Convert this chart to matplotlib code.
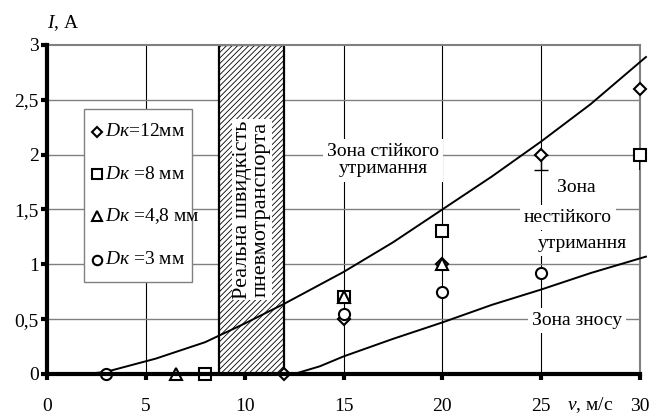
import matplotlib
matplotlib.use("Agg")
import matplotlib.pyplot as plt
from matplotlib.patches import Rectangle

plt.rcParams['font.family'] = ['Liberation Serif', 'DejaVu Serif']
plt.rcParams['mathtext.fontset'] = 'custom'
plt.rcParams['mathtext.it'] = 'Liberation Serif:italic'
plt.rcParams['mathtext.rm'] = 'Liberation Serif'
plt.rcParams['hatch.linewidth'] = 0.6

# ---- data ----
x_ticks = [0, 5, 10, 15, 20, 25, 30]
x_labels = ['0', '5', '10', '15', '20', '25', '30']
y_ticks = [0, 0.5, 1, 1.5, 2, 2.5, 3]
y_labels = ['0', '0,5', '1', '1,5', '2', '2,5', '3']

d12_x = [12, 15, 20, 25, 30]
d12_y = [0, 0.5, 1.0, 2.0, 2.6]
d8_x = [8, 15, 20, 30]
d8_y = [0, 0.7, 1.3, 2.0]
d48_x = [6.5, 15, 20]
d48_y = [0, 0.7, 1.0]
d3_x = [3, 15, 20, 25]
d3_y = [0, 0.55, 0.75, 0.92]

err_x = [25, 30]
err_y = [2.0, 2.0]
err_lo = [0.14, 0.14]

upper_x = [2.0, 3, 5.5, 8, 10, 12, 15, 17.5, 20, 22.5, 25, 27.5, 30.3]
upper_y = [0.0, 0.02, 0.14, 0.29, 0.46, 0.64, 0.93, 1.2, 1.5, 1.8, 2.12, 2.46, 2.89]
lower_x = [12.5, 13.8, 15, 17.5, 20, 22.5, 25, 27.5, 30.3]
lower_y = [0.0, 0.07, 0.16, 0.32, 0.47, 0.63, 0.77, 0.92, 1.07]

legend_labels = [r'$\mathit{Dк}$=12мм', r'$\mathit{Dк}$ =8 мм',
                 r'$\mathit{Dк}$ =4,8 мм', r'$\mathit{Dк}$ =3 мм']

band_x0, band_x1, band_top = 8.7, 12.0, 3.0

FS = 14

fig = plt.figure(figsize=(6.66, 4.16), dpi=100)
ax = fig.add_axes([0.0706, 0.101, 0.8904, 0.791])
ax.set_xlim(0, 30)
ax.set_ylim(0, 3)

# grid
for xv in x_ticks[1:-1]:
    ax.axvline(xv, color='black', lw=0.8, zorder=1)
for yv in y_ticks[1:-1]:
    ax.axhline(yv, color='#808080', lw=1.0, zorder=1)

# hatched band
ax.add_patch(Rectangle((band_x0, 0), band_x1 - band_x0, band_top, facecolor='white',
                       edgecolor='black', hatch='//////', lw=1.6, zorder=2))
ax.text((band_x0 + band_x1) / 2, 1.5, 'Реальна швидкість\nпневмотранспорта',
        rotation=90, ha='center', va='center', fontsize=16, linespacing=0.95,
        bbox=dict(facecolor='white', edgecolor='none', pad=1), zorder=2.5)

# zone labels
tb = dict(facecolor='white', edgecolor='none', pad=3)
ax.text(17.0, 1.95, 'Зона стійкого\nутримання', ha='center', va='center', fontsize=FS,
        linespacing=1.05, bbox=tb, zorder=2.5)
ax.text(26.8, 1.70, 'Зона', ha='center', va='center', fontsize=FS, bbox=tb, zorder=2.5)
ax.text(26.35, 1.43, 'нестійкого', ha='center', va='center', fontsize=FS, bbox=tb, zorder=2.5)
ax.text(27.1, 1.19, 'утримання', ha='center', va='center', fontsize=FS, bbox=tb, zorder=2.5)
ax.text(26.8, 0.49, 'Зона зносу', ha='center', va='center', fontsize=FS, bbox=tb, zorder=2.5)

# curves
ax.plot(upper_x, upper_y, color='black', lw=1.4, zorder=3, clip_on=False)
ax.plot(lower_x, lower_y, color='black', lw=1.4, zorder=3, clip_on=False)

# error bars (lower part)
ax.errorbar(err_x[:1], err_y[:1], yerr=[err_lo[:1], [0]], fmt='none', ecolor='black',
            elinewidth=1.0, capsize=5, capthick=1.0, zorder=3.5)
ax.errorbar(err_x[1:], err_y[1:], yerr=[err_lo[1:], [0]], fmt='none', ecolor='black',
            elinewidth=1.2, capsize=0, zorder=3.5)

mk = dict(linestyle='none', markerfacecolor='white', markeredgecolor='black',
          markeredgewidth=1.5, zorder=4, clip_on=False)
series = [
    (d12_x, d12_y, 'D', 6.5),
    (d8_x, d8_y, 's', 8),
    (d48_x, d48_y, '^', 8),
    (d3_x, d3_y, 'o', 8),
]
for xs, ys, m, ms in series:
    ax.plot(xs, ys, marker=m, markersize=ms, **mk)

# manual legend box
lx0, lx1, ly0, ly1 = 1.87, 7.33, 0.84, 2.42
ax.add_patch(Rectangle((lx0, ly0), lx1 - lx0, ly1 - ly0, facecolor='white',
                       edgecolor='#808080', lw=1.0, zorder=5))
entry_y = [2.21, 1.82, 1.44, 1.04]
for (xs, ys, m, ms), lab, ey in zip(series, legend_labels, entry_y):
    ax.plot([2.55], [ey], marker=m, markersize=ms * 0.85, linestyle='none',
            markerfacecolor='white', markeredgecolor='black', markeredgewidth=1.5, zorder=6)
    ax.text(2.92, ey, lab, ha='left', va='center', fontsize=FS, zorder=6)

# spines
for s in ['top', 'right']:
    ax.spines[s].set_color('#808080')
    ax.spines[s].set_linewidth(1.5)
ax.spines['left'].set_linewidth(3)
ax.spines['bottom'].set_linewidth(3)
ax.spines['left'].set_zorder(7)
ax.spines['bottom'].set_zorder(7)

ax.set_xticks(x_ticks)
ax.set_xticklabels(x_labels, fontsize=FS)
ax.set_yticks(y_ticks)
ax.set_yticklabels(y_labels, fontsize=FS)
ax.tick_params(axis='x', direction='out', length=4, width=3, pad=13)
ax.tick_params(axis='y', direction='out', length=4, width=3, pad=2)

ax.text(27.5, -0.285, r'$\mathit{v}$, м/с', ha='center', va='center', fontsize=FS,
        clip_on=False)
ax.text(0.8, 3.2, r'$\mathit{I}$, А', ha='center', va='center', fontsize=FS, clip_on=False)

fig.savefig('out.png', dpi=100)
